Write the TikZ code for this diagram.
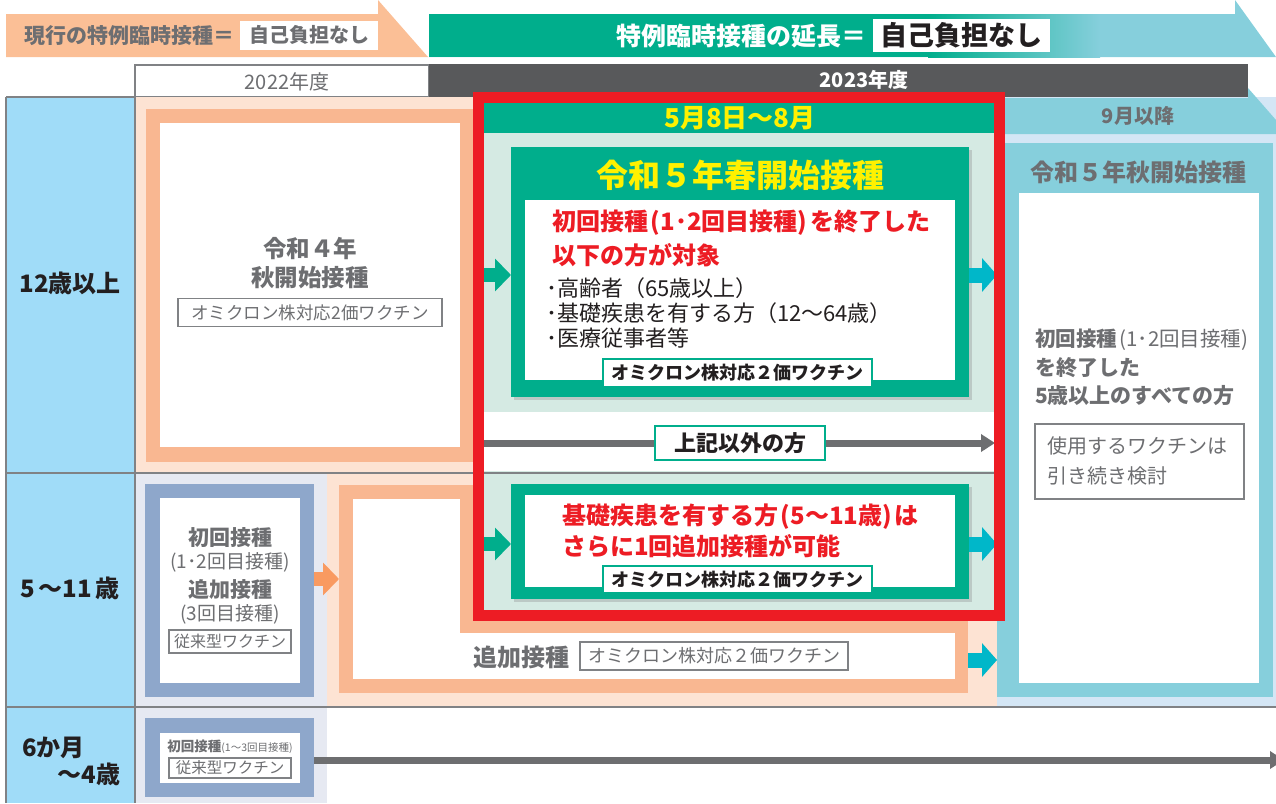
\documentclass[tikz,border=0pt]{standalone}
\usepackage{fontspec}
\setmainfont{Noto Sans CJK JP}
\usetikzlibrary{arrows.meta,shadows,fit}
\definecolor{peachA}{HTML}{FBBF96}
\definecolor{peachF}{HTML}{F9B791}
\definecolor{peachBG}{HTML}{FDE3D3}
\definecolor{orangeAr}{HTML}{F99A61}
\definecolor{grn}{HTML}{00AE8C}
\definecolor{tealc}{HTML}{00B7C9}
\definecolor{ltblue}{HTML}{86CFDC}
\definecolor{paleblue}{HTML}{D4E6F5}
\definecolor{agecol}{HTML}{A0DCF8}
\definecolor{lav}{HTML}{E6E9F2}
\definecolor{bluegray}{HTML}{8EA7CB}
\definecolor{ltgrn}{HTML}{D5EAE3}
\definecolor{redc}{HTML}{ED1C24}
\definecolor{yel}{HTML}{FFF100}
\definecolor{dgray}{HTML}{58595B}
\definecolor{tgray}{HTML}{6D6E71}
\definecolor{lgray}{HTML}{808285}
\definecolor{agray}{HTML}{6D6E70}
\definecolor{ink}{HTML}{231F20}
\newcommand\fz[2]{\fontsize{#1}{#2}\selectfont}
\newcommand\lpar{\kern0.12em(}
\newcommand\rpar{)\kern0.12em}
\begin{document}
\begin{tikzpicture}[x=1pt,y=-1pt,
  every node/.style={inner sep=0pt, outer sep=0pt},
  labelbox/.style={draw=#1, line width=1.4pt, fill=white},
  blockarrow/.style={line width=14pt, #1, -{Triangle[length=16pt,width=32pt]}},
  tealarrow/.style={line width=15pt, tealc, -{Triangle[length=15pt,width=33pt]}},
  grayarrow/.style={line width=7pt, agray, -{Triangle[length=14pt,width=17pt]}},
  gline/.style={lgray, line width=2.6pt},
  sh/.style={drop shadow={shadow xshift=3pt, shadow yshift=-3pt, opacity=.3}},
]
\useasboundingbox (0,0) rectangle (1276,803);
% ---------- top banners
\fill[peachA] (6,14) -- (378,14) -- (378,0) -- (428,57) -- (6,57) -- cycle;
\node[anchor=west, text=tgray, font=\bfseries\fz{21}{24}] (curtxt) at (24,36) {現行の特例臨時接種＝};
\node[fill=white, minimum width=138pt, minimum height=29pt, text=tgray, font=\bfseries\fz{20}{24}] (cur0) at (309,35) {自己負担なし};
\fill[ltblue] (429,14) -- (1235,14) -- (1235,0) -- (1276,57) -- (429,57) -- cycle;
\fill[grn] (429,14) rectangle (930,57);
\shade[left color=grn, right color=ltblue] (928,14) rectangle (1100,57);
\node[anchor=west, text=white, font=\bfseries\fz{25}{28}] (exttxt) at (616,36) {特例臨時接種の延長＝};
\node[fill=white, minimum width=177pt, minimum height=33pt, text=ink, font=\bfseries\fz{27}{30}] (ext0) at (961.5,35.5) {自己負担なし};
% ---------- year headers
\node[fit={(135,65) (429,97)}, fill=white, draw=lgray, line width=1.5pt] (y22) {};
\node[text=tgray, font=\fz{20}{23}] (y22t) at (287,82) {2022年度};
\fill[dgray] (429,64) rectangle (1248,97);
\node[text=white, font=\bfseries\fz{20}{23}] (y23t) at (864,80) {2023年度};
% ---------- backgrounds
\fill[agecol] (6,97) rectangle (135,803);
\fill[peachBG] (135,97) rectangle (997,473);
\fill[peachBG] (327,473) rectangle (997,707);
\fill[lav] (135,473) rectangle (327,803);
\fill[paleblue] (997,97) rectangle (1276,707);
\fill[ltblue] (997,98) -- (1248,98) -- (1248,88) -- (1276,120) -- (1276,134) -- (997,134) -- cycle;
\node[text=tgray, font=\bfseries\fz{20}{23}] (sephdr) at (1138,116) {9月以降};
% right column frame
\node[fit={(997,143) (1273,697)}, fill=ltblue] (aut) {};
\fill[white] (1019,193) rectangle (1259,683);
\node[text=tgray, font=\bfseries\fz{24}{27}] (autT) at (1138,172) {令和５年秋開始接種};
\node[anchor=west, text=tgray, font=\fz{20.5}{23}] (aut1) at (1035,340) {{\bfseries 初回接種}\lpar 1･2回目接種\rpar};
\node[anchor=west, text=tgray, font=\bfseries\fz{21}{24}] (aut2) at (1035,368) {を終了した};
\node[anchor=west, text=tgray, font=\bfseries\fz{21}{24}] (aut3) at (1035,396) {5歳以上のすべての方};
\node[labelbox=lgray, minimum width=209pt, minimum height=75pt] (autbox) at (1139.5,461.5) {};
\node[anchor=west, text=tgray, font=\fz{20}{23}] (autb1) at (1047,446) {使用するワクチンは};
\node[anchor=west, text=tgray, font=\fz{20}{23}] (autb2) at (1047,476) {引き続き検討};
% ---------- grid lines
\draw[gline] (6,97) -- (6,803);
\draw[gline] (135,65) -- (135,803);
\draw[gline] (6,97) -- (135,97);
\draw[gline] (6,473) -- (997,473);
\draw[gline] (6,707) -- (1276,707);
% ---------- age labels
\node[text=ink, font=\bfseries\fz{24}{27}] (age1) at (70,283) {12歳以上};
\node[text=ink, font=\bfseries\fz{24}{27}] (age2) at (70,588) {5\,～11\,歳};
\node[anchor=west, text=ink, font=\bfseries\fz{24}{27}] (age3a) at (22,748) {6か月};
\node[anchor=east, text=ink, font=\bfseries\fz{24}{27}] (age3b) at (120,774) {～4歳};
% ---------- row 1 left
\node[fit={(146,109) (474,462)}, fill=peachF] (old1) {};
\fill[white] (160,123) rectangle (460,447);
\node[text=tgray, font=\bfseries\fz{23.5}{26}] (old1a) at (310,249) {令和４年};
\node[text=tgray, font=\bfseries\fz{23.5}{26}] (old1b) at (310,278) {秋開始接種};
\node[labelbox=lgray, minimum width=264pt, minimum height=28pt, text=tgray, font=\fz{17.5}{20}] (old1c) at (310,312.5) {オミクロン株対応2価ワクチン};
% ---------- row 2 left
\node[fit={(145,484) (314,697)}, fill=bluegray] (r2box) {};
\fill[white] (160,498) rectangle (300,683);
\node[text=tgray, font=\bfseries\fz{21}{24}] (r2a) at (230,538) {初回接種};
\node[text=tgray, font=\fz{19}{22}] (r2b) at (230,562) {(1･2回目接種)};
\node[text=tgray, font=\bfseries\fz{21}{24}] (r2c) at (230,590) {追加接種};
\node[text=tgray, font=\fz{19}{22}] (r2d) at (230,614) {(3回目接種)};
\node[labelbox=lgray, minimum width=122pt, minimum height=23pt, text=tgray, font=\fz{16}{19}] (r2e) at (230,641.5) {従来型ワクチン};
% ---------- row 3 left
\node[fit={(145,718) (314,797)}, fill=bluegray] (r3box) {};
\fill[white] (160,733) rectangle (300,783);
\node[text=tgray] (r3a) at (230,747) {{\bfseries\fz{13.5}{16}初回接種}{\fz{10.5}{12}(1～3回目接種)}};
\node[labelbox=lgray, minimum width=122pt, minimum height=20pt, text=tgray, font=\fz{15.5}{18}] (r3b) at (230,768) {従来型ワクチン};
\coordinate (r3end) at (1284,760);
\draw[grayarrow] (r3box.east |- r3end) -- (r3end);
% ---------- row 2 orange frame
\node[fit={(339,485) (968,693)}, fill=peachF] (add2) {};
\fill[white] (353,499) rectangle (955,679);
\fill[peachF] (460,485) rectangle (968,633);
\coordinate (oa) at (314,579);
\draw[blockarrow=orangeAr] (oa) -- (oa -| add2.west);
\node[anchor=west, text=tgray, font=\bfseries\fz{24}{27}] (add2a) at (473,657) {追加接種};
\node[labelbox=lgray, minimum width=268pt, minimum height=28pt, text=tgray, font=\fz{18}{20}] (add2b) at (714,656) {オミクロン株対応２価ワクチン};
\coordinate (ta3) at (968,660);
\draw[tealarrow] (ta3) -- (ta3 -| aut.west);
% ---------- red box interior
\fill[ltgrn] (478,97) rectangle (1000,616);
\fill[white] (484,412) rectangle (995,471);
\draw[gline] (473,473) -- (1005,473);
\fill[grn] (484,102) rectangle (995,133);
\node[text=yel, font=\bfseries\fz{26}{29}] (hdr) at (740,118) {5月8日～8月};
% spring box
\node[fit={(511,147) (969,397)}, fill=grn, sh] (spring) {};
\fill[white] (525,200) rectangle (955,380);
\node[text=yel, font=\bfseries\fz{32}{36}] (springT) at (740,175) {令和５年春開始接種};
\node[anchor=west, text=redc, font=\bfseries\fz{24}{28}] (sp1) at (552,223) {初回接種\lpar 1･2回目接種\rpar を終了した};
\node[anchor=west, text=redc, font=\bfseries\fz{24}{28}] (sp2) at (552,255) {以下の方が対象};
\node[anchor=west, text=ink, font=\fz{22}{25}] (sp3) at (546,288) {･高齢者（65歳以上）};
\node[anchor=west, text=ink, font=\fz{22}{25}] (sp4) at (546,313) {･基礎疾患を有する方（12～64歳）};
\node[anchor=west, text=ink, font=\fz{22}{25}] (sp5) at (546,338) {･医療従事者等};
\node[labelbox=grn, minimum width=269pt, minimum height=28pt, text=ink, font=\bfseries\fz{18}{20}] (sp6) at (737.5,373) {オミクロン株対応２価ワクチン};
\coordinate (g1) at (484,275);
\draw[blockarrow=grn] (g1) -- (g1 -| spring.west);
\draw[tealarrow] (spring.east |- g1) -- (g1 -| aut.west);
% other people
\coordinate (o1) at (484,443);
\coordinate (o2) at (995,443);
\draw[grayarrow] (o1) -- (o2);
\node[labelbox=grn, minimum width=170pt, minimum height=34pt, text=ink, font=\bfseries\fz{22}{25}] (other) at (740,443) {上記以外の方};
% condition box
\node[fit={(511,484) (969,599)}, fill=grn, sh] (cond) {};
\fill[white] (525,495) rectangle (955,587);
\node[anchor=west, text=redc, font=\bfseries\fz{24}{28}] (cd1) at (562,517) {基礎疾患を有する方\lpar 5～11歳\rpar は};
\node[anchor=west, text=redc, font=\bfseries\fz{24}{28}] (cd2) at (562,546) {さらに1回追加接種が可能};
\node[labelbox=grn, minimum width=269pt, minimum height=27pt, text=ink, font=\bfseries\fz{18}{20}] (cd3) at (737.5,579.5) {オミクロン株対応２価ワクチン};
\coordinate (g2) at (484,544);
\draw[blockarrow=grn] (g2) -- (g2 -| cond.west);
\draw[tealarrow] (cond.east |- g2) -- (g2 -| aut.west);
% red border
\node[fit={(478.5,97.5) (999.5,615.5)}, draw=redc, line width=11pt] (redbox) {};
\end{tikzpicture}
\end{document}
